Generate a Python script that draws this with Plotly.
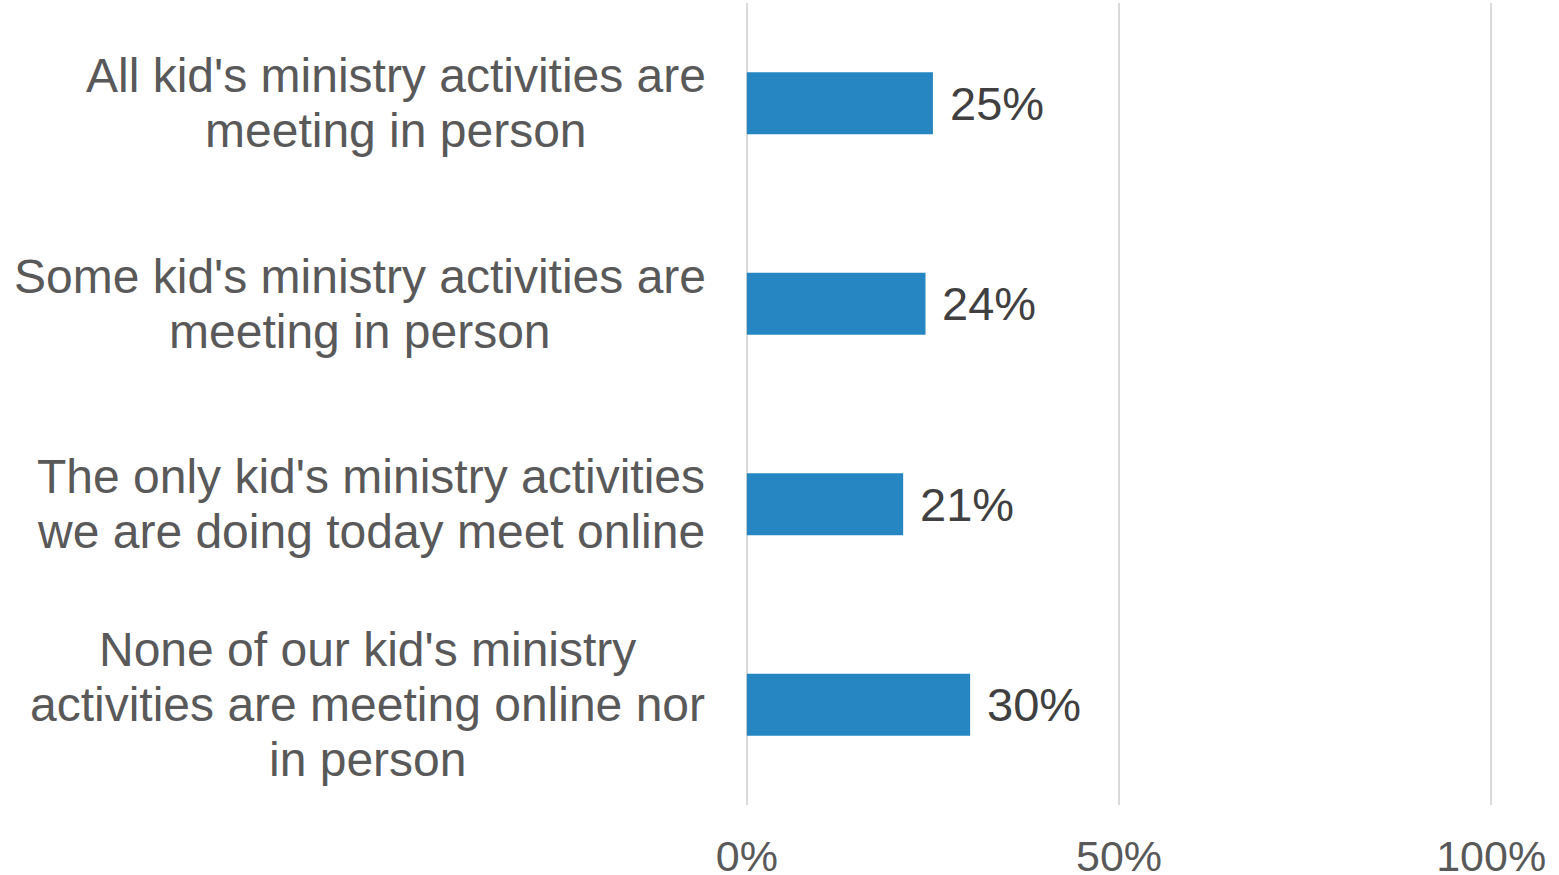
import plotly.graph_objects as go

categories = [
    "All kid's ministry activities are|meeting in person",
    "Some kid's ministry activities are|meeting in person",
    "The only kid's ministry activities|we are doing today meet online",
    "None of our kid's ministry|activities are meeting online nor|in person",
]
values = [25, 24, 21, 30]
x_ticks = [0, 50, 100]
x_tick_labels = ["0%", "50%", "100%"]

W, H = 1559, 875
pad_v = 0.25  # small range padding so edge gridlines are drawn
x0_px, x100_px = 747, 1491
scale = (x100_px - x0_px) / 100.0
ml = x0_px - pad_v * scale
plot_w = (100 + 2 * pad_v) * scale
mr = W - ml - plot_w
mt, mb = 3, 70
font_family = "Liberation Sans, Arial, sans-serif"

fig = go.Figure()
fig.add_trace(go.Bar(
    y=list(range(len(values))),
    x=values,
    orientation="h",
    marker=dict(color="#2586C1", line=dict(width=0)),
    width=0.31,
    hoverinfo="skip",
))

centers_px = [396, 360, 371, 368]
annotations = []
line_gap = 55
for i, (cat, v) in enumerate(zip(categories, values)):
    lines = cat.split("|")
    n = len(lines)
    for j, ln in enumerate(lines):
        annotations.append(dict(
            x=(centers_px[i] - ml) / plot_w, xref="paper", y=i, yref="y",
            text=ln, showarrow=False, xanchor="center",
            yanchor="middle", align="center",
            yshift=-(j - (n - 1) / 2) * line_gap,
            font=dict(family=font_family, size=48, color="#595959"),
        ))
    annotations.append(dict(
        x=v, xref="x", y=i, yref="y", text=f"{v}%", showarrow=False,
        xanchor="left", yanchor="middle", xshift=15,
        font=dict(family=font_family, size=47, color="#404040"),
    ))

fig.update_layout(
    width=W, height=H,
    margin=dict(l=ml, r=mr, t=mt, b=mb, pad=0, autoexpand=False),
    paper_bgcolor="white", plot_bgcolor="white",
    showlegend=False,
    annotations=annotations,
    xaxis=dict(
        range=[-pad_v, 100 + pad_v], tickvals=x_ticks, ticktext=x_tick_labels,
        showgrid=True, gridcolor="#D9D9D9", gridwidth=1.5,
        zeroline=False, showline=False, automargin=False,
        ticks="", ticklabelstandoff=22,
        tickfont=dict(family=font_family, size=43, color="#595959"),
        fixedrange=True,
    ),
    yaxis=dict(
        range=[3.5, -0.5], showticklabels=False, showgrid=False,
        zeroline=False, showline=False, fixedrange=True, automargin=False,
    ),
)

fig.write_html(
    "out.html",
    config={"displayModeBar": False},
    post_script="document.body.style.margin='0';document.body.style.overflow='hidden';",
)
